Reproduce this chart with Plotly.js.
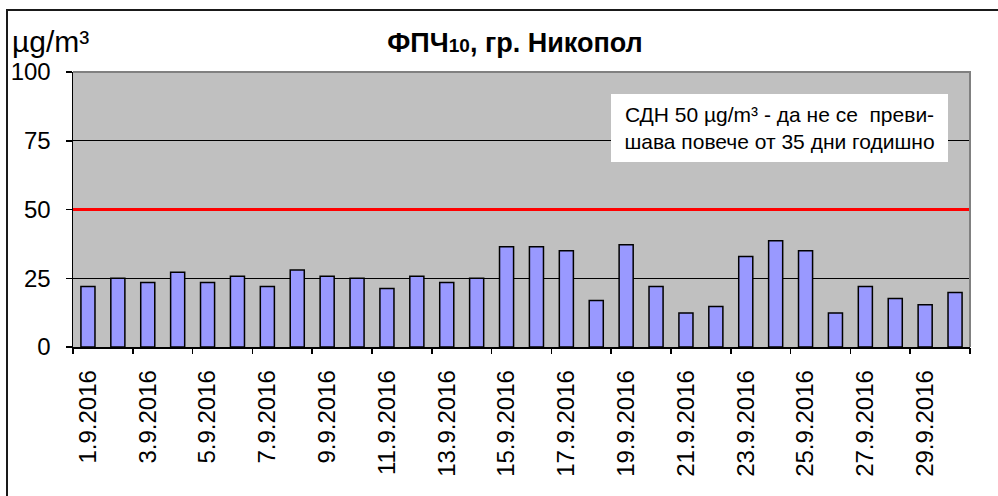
<!DOCTYPE html>
<html>
<head>
<meta charset="utf-8">
<script src="https://cdn.plot.ly/plotly-3.0.1.min.js"></script>
<style>
  html, body { margin: 0; padding: 0; background: #fff; overflow: hidden; }
  #wrap { position: relative; width: 998px; height: 496px; }
  #chart { position: absolute; left: 0; top: 0; width: 998px; height: 496px; }
  #frame { position: absolute; left: 6px; top: 9px; width: 992px; height: 490px;
           border-top: 2px solid #1a1a1a; border-left: 2px solid #1a1a1a; pointer-events: none; }
</style>
</head>
<body>
<div id="wrap">
  <div id="chart"></div>
  <div id="frame"></div>
</div>
<script>
// ---- data ----
const dates = ["1.9.2016","2.9.2016","3.9.2016","4.9.2016","5.9.2016","6.9.2016","7.9.2016","8.9.2016","9.9.2016","10.9.2016",
               "11.9.2016","12.9.2016","13.9.2016","14.9.2016","15.9.2016","16.9.2016","17.9.2016","18.9.2016","19.9.2016","20.9.2016",
               "21.9.2016","22.9.2016","23.9.2016","24.9.2016","25.9.2016","26.9.2016","27.9.2016","28.9.2016","29.9.2016","30.9.2016"];
const pm10 = [22.0, 25.0, 23.5, 27.2, 23.5, 25.7, 22.0, 28.0, 25.7, 25.0,
              21.3, 25.7, 23.5, 25.0, 36.5, 36.5, 35.0, 16.9, 37.2, 22.0,
              12.4, 14.7, 32.9, 38.6, 35.0, 12.4, 22.0, 17.6, 15.4, 19.8];
const limitValue = 50;
const yTicks = [0, 25, 50, 75, 100];
const chartTitle = "<b>ФПЧ<span style=\"font-size:19px\">10</span>, гр. Никопол</b>";
const unitLabel = "µg/m³";
const noteText = "СДН 50 µg/m³ - да не се \u00a0преви-<br>шава повече от 35 дни годишно";

// ---- layout helpers ----
const W = 998, H = 496;
const M = {l: 73, r: 28, t: 72, b: 149};
const PW = W - M.l - M.r, PH = H - M.t - M.b;
const px2x = px => (px - M.l) / PW;
const py2y = py => (H - M.b - py) / PH;

const labelVals = dates.filter((d, i) => i % 2 === 0);
const boundaryVals = [];
for (let i = 0; i < dates.length; i += 2) boundaryVals.push(i - 0.5);
boundaryVals.push(dates.length - 0.5);

const FONT = "Liberation Sans, Arial, sans-serif";

const bars = {
  type: "bar",
  x: dates,
  y: pm10,
  marker: {color: "#9999FF", line: {color: "#000000", width: 1.5}},
  hoverinfo: "x+y"
};
// invisible helper trace so the boundary-tick axis is drawn
const tickHelper = {
  type: "scatter", mode: "none", xaxis: "x2", yaxis: "y",
  x: [boundaryVals[0], boundaryVals[boundaryVals.length - 1]], y: [0, 0],
  hoverinfo: "skip", showlegend: false
};

const layout = {
  width: W, height: H,
  margin: M,
  paper_bgcolor: "#ffffff",
  plot_bgcolor: "#C0C0C0",
  showlegend: false,
  bargap: 0.53,
  font: {family: FONT, color: "#000", size: 24},
  title: {
    text: chartTitle,
    font: {family: FONT, size: 27, color: "#000"},
    xref: "container", x: 515 / W, xanchor: "center",
    yref: "container", y: 1 - 43 / H, yanchor: "middle"
  },
  xaxis: {
    type: "category",
    range: [-0.5, dates.length - 0.5],
    tickmode: "array",
    tickvals: labelVals,
    ticktext: labelVals,
    tickangle: -90,
    ticks: "",
    ticklabelstandoff: 12,
    tickfont: {family: FONT, size: 24, color: "#000"},
    showline: true, linecolor: "#000", linewidth: 1.5,
    showgrid: false, zeroline: false, fixedrange: true
  },
  xaxis2: {
    overlaying: "x", anchor: "y", side: "bottom",
    type: "linear",
    range: [-0.5, dates.length - 0.5],
    tickmode: "array",
    tickvals: boundaryVals,
    ticks: "outside", ticklen: 6, tickwidth: 1.5, tickcolor: "#000",
    showticklabels: false,
    showline: false, showgrid: false, zeroline: false, fixedrange: true
  },
  yaxis: {
    range: [0, 100],
    tickmode: "array",
    tickvals: yTicks,
    ticks: "outside", ticklen: 6, tickwidth: 1.5, tickcolor: "#000",
    ticklabelstandoff: 10,
    tickfont: {family: FONT, size: 24, color: "#000"},
    showline: true, linecolor: "#000", linewidth: 1.5,
    showgrid: true, gridcolor: "#000", gridwidth: 1,
    zeroline: false, fixedrange: true
  },
  shapes: [
    {type: "line", xref: "paper", yref: "y", x0: 0, x1: 1, y0: limitValue, y1: limitValue,
     line: {color: "#FF0000", width: 3}, layer: "above"},
    {type: "path", xref: "paper", yref: "paper", path: "M0,1 L1,1 L1,0",
     line: {color: "#808080", width: 2}, layer: "above"}
  ],
  annotations: [
    {text: unitLabel, xref: "paper", yref: "paper", x: px2x(10), y: py2y(42),
     xanchor: "left", yanchor: "middle", showarrow: false,
     font: {family: FONT, size: 30, color: "#000"}},
    {text: noteText, xref: "paper", yref: "paper", x: px2x(779.5), y: py2y(128),
     xanchor: "center", yanchor: "middle", showarrow: false, align: "center",
     bgcolor: "#ffffff", borderwidth: 0, borderpad: 3, width: 331, height: 62,
     font: {family: FONT, size: 21, color: "#000"}}
  ]
};

Plotly.newPlot("chart", [bars, tickHelper], layout, {staticPlot: true, displayModeBar: false});
</script>
</body>
</html>
